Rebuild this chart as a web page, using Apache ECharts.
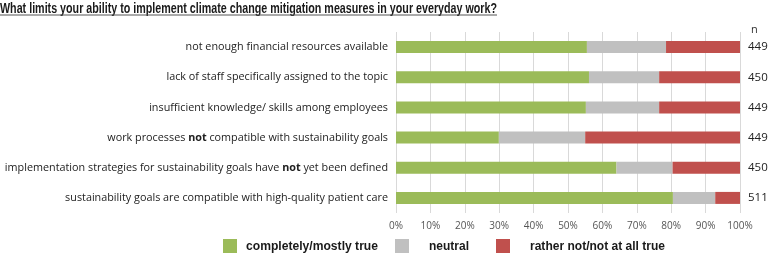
<!DOCTYPE html>
<html><head><meta charset="utf-8">
<script src="https://cdn.jsdelivr.net/npm/echarts@6/dist/echarts.min.js"></script>
<style>html,body{margin:0;padding:0;background:#fff}#c{width:768px;height:253px}</style>
</head><body><div id="c"></div>
<script>
const titleText = 'What limits your ability to implement climate change mitigation measures in your everyday work?';
const categories = [
  'not enough financial resources available',
  'lack of staff specifically assigned to the topic',
  'insufficient knowledge/ skills among employees',
  'work processes {b|not} compatible with sustainability goals',
  'implementation strategies for sustainability goals have {b|not} yet been defined',
  'sustainability goals are compatible with high-quality patient care'
];
const completely = [55.5, 56.1, 55.2, 29.9, 64.1, 80.5];
const neutral    = [23.0, 20.4, 21.3, 25.1, 16.3, 12.3];
const ratherNot  = [21.5, 23.5, 23.5, 45.0, 19.6, 7.2];
const nValues    = ['449', '450', '449', '449', '450', '511'];
const seriesNames = ['completely/mostly true', 'neutral', 'rather not/not at all true'];
const colors = ['#9bbb59', '#c0c0c0', '#c0504d'];

const chart = echarts.init(document.getElementById('c'));
const labelFont = "'Open Sans', sans-serif";
const boldFamily = "'Liberation Sans', sans-serif";

const cv = document.createElement('canvas').getContext('2d');
function fitScale(text, font, target) {
  cv.font = font;
  return target / cv.measureText(text).width;
}
const titleFont = "bold 15px " + boldFamily;
const legFont = "bold 13px " + boldFamily;
const legSquareX = [223, 395, 496];
const legTextX = [246, 429, 530];
const legTextW = [132, 40, 135];

const graphics = [
  { type: 'text', x: 0, y: 1, scaleX: fitScale(titleText, titleFont, 497),
    style: { text: titleText, font: titleFont, fill: '#1a1a1a', textVerticalAlign: 'top' } },
  { type: 'line', shape: { x1: 0, y1: 15, x2: 497, y2: 15 }, style: { stroke: '#555', lineWidth: 1 } },
  { type: 'text', x: 751, y: 24,
    style: { text: 'n', font: "11px " + labelFont, fill: '#333', textVerticalAlign: 'top' } }
];
seriesNames.forEach((n, i) => {
  graphics.push({ type: 'rect', shape: { x: legSquareX[i], y: 239, width: 14, height: 14 }, style: { fill: colors[i] } });
  graphics.push({ type: 'text', x: legTextX[i], y: 246, scaleX: fitScale(n, legFont, legTextW[i]),
    style: { text: n, font: legFont, fill: '#1a1a1a', textVerticalAlign: 'middle' } });
});

chart.setOption({
  animation: false,
  graphic: graphics,
  grid: { left: 396, right: 28, top: 32, bottom: 40, outerBoundsMode: 'none', containLabel: false },
  xAxis: {
    type: 'value', min: 0, max: 100, interval: 10,
    axisLabel: { formatter: '{value}%', fontFamily: labelFont, fontSize: 10, color: '#555', margin: 8 },
    splitLine: { show: true, lineStyle: { color: '#d9d9d9' } },
    axisLine: { show: false }, axisTick: { show: false }
  },
  yAxis: [
    { type: 'category', data: categories, inverse: true,
      axisLine: { show: false }, axisTick: { show: false },
      axisLabel: { fontFamily: labelFont, fontSize: 10.8, color: '#222', margin: 8,
        rich: { b: { fontFamily: labelFont, fontSize: 10.8, fontWeight: 'bold', color: '#222' } } } },
    { type: 'category', data: nValues, inverse: true, position: 'right',
      axisLine: { show: false }, axisTick: { show: false },
      axisLabel: { fontFamily: labelFont, fontSize: 11.5, color: '#222', margin: 8 } }
  ],
  series: [completely, neutral, ratherNot].map((d, i) => ({
    name: seriesNames[i], type: 'bar', stack: 'all', data: d, barWidth: 12,
    itemStyle: { color: colors[i] }
  }))
});
</script></body></html>
